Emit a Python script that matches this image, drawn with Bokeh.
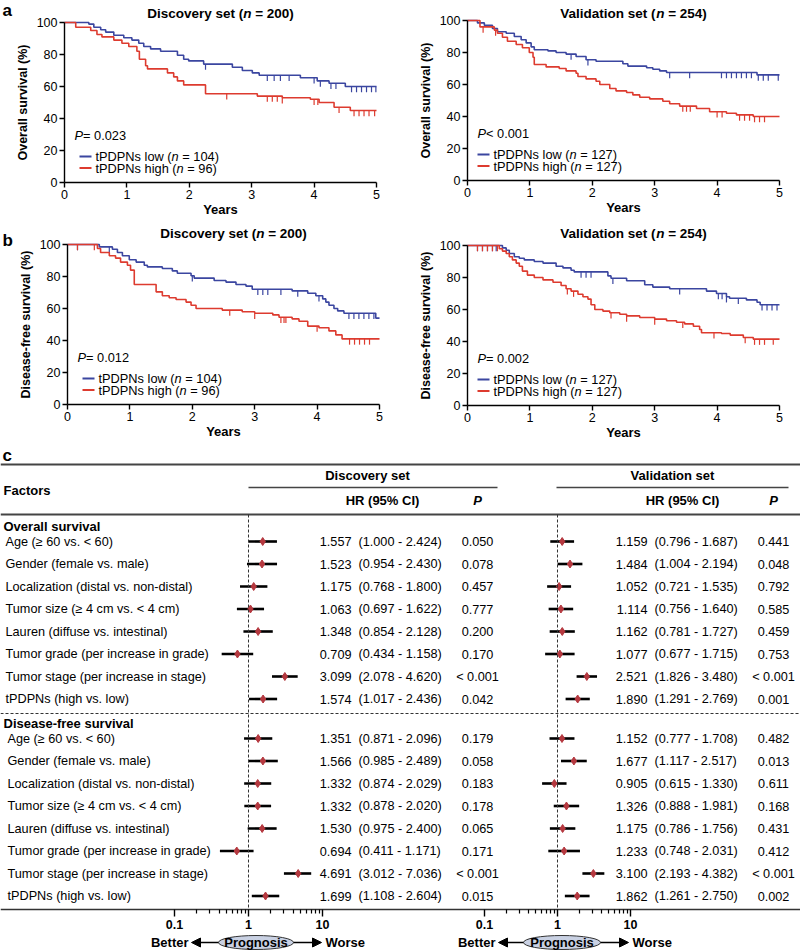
from bokeh.plotting import figure
from bokeh.layouts import column, row
from bokeh.models import (Range1d, LogScale, Label, Arrow, NormalHead, LogAxis, FixedTicker,
                          CustomJSTickFormatter)
from bokeh.embed import file_html
from bokeh.resources import INLINE
from bokeh.core.properties import value

FONT = "Liberation Sans"
BLUE = "#3b46a0"
RED = "#dd3b2f"
DOT = "#b5383f"

year_ticks = [0, 1, 2, 3, 4, 5]
surv_ticks = [0, 20, 40, 60, 80, 100]

# ---------------- Kaplan-Meier data (time in years, survival %) ----------------
os_disc_low_t = [0, 0.39, 0.47, 0.58, 0.66, 0.79, 0.95, 1.08, 1.19, 1.27, 1.38, 1.54, 1.81, 1.91, 1.99, 2.23, 2.69, 2.85, 3.01, 3.12, 3.78, 4.05, 4.24, 4.5]
os_disc_low_s = [100, 99, 97, 95.5, 94, 92, 90.5, 89, 87, 85, 83.5, 82, 79.5, 77, 76, 74, 72, 70, 68.5, 67, 65.5, 63.5, 62, 60]
os_disc_low_c = [2.26, 3.25, 3.36, 3.46, 3.6, 4.0, 4.1, 4.27, 4.35, 4.6, 4.68, 4.76, 4.84, 4.92, 4.99]
os_disc_high_t = [0, 0.18, 0.42, 0.52, 0.60, 0.79, 0.92, 1.03, 1.16, 1.2, 1.3, 1.33, 1.65, 1.75, 1.81, 1.91, 2.26, 3.09, 3.49, 3.94, 4.08, 4.32, 4.58]
os_disc_high_s = [100, 97, 95, 92.5, 91, 89, 87, 85, 82, 77, 73, 71, 68.5, 66, 63.5, 61, 55.5, 54, 53, 52, 50, 47, 45]
os_disc_high_c = [2.6, 3.25, 3.33, 3.41, 3.49, 4.0, 4.06, 4.4, 4.64, 4.72, 4.8, 4.88, 4.97]

os_val_low_t = [0, 0.16, 0.27, 0.40, 0.48, 0.62, 0.75, 0.86, 0.94, 1.02, 1.07, 1.29, 1.42, 1.58, 1.74, 1.90, 2.06, 2.49, 2.57, 2.87, 2.97, 3.08, 3.19, 4.64]
os_val_low_s = [100, 98.5, 97, 95, 93, 92, 90, 88, 86, 83.5, 81.7, 81, 80, 79, 77.5, 75.5, 74.5, 73, 71.5, 70.5, 69.5, 68.5, 67.5, 66]
os_val_low_c = [1.66, 1.93, 3.24, 3.56, 4.07, 4.15, 4.23, 4.31, 4.39, 4.47, 4.55, 4.66, 4.74, 4.82, 4.98]
os_val_high_t = [0, 0.2, 0.43, 0.48, 0.56, 0.64, 0.78, 0.88, 0.99, 1.05, 1.07, 1.26, 1.47, 1.58, 1.74, 1.77, 1.90, 2.06, 2.12, 2.28, 2.38, 2.55, 2.65, 2.76, 2.92, 3.13, 3.24, 3.40, 3.67, 3.88, 4.15, 4.31, 4.58]
os_val_high_s = [100, 96, 94, 92, 89.5, 87, 85, 83, 80, 77, 72.5, 71, 70, 68.5, 67, 65, 63.5, 62, 60, 57.5, 56, 55, 53.5, 52, 51, 49.5, 48, 46.5, 45, 43, 42, 41, 40]
os_val_high_c = [0.25, 0.45, 3.45, 3.51, 3.57, 4.0, 4.08, 4.36, 4.44, 4.52, 4.6, 4.68, 4.76]

dfs_disc_low_t = [0, 0.51, 0.72, 0.80, 0.88, 0.99, 1.10, 1.23, 1.28, 1.52, 1.68, 1.76, 1.98, 2.03, 2.35, 2.54, 2.70, 2.86, 2.96, 3.60, 3.85, 3.98, 4.09, 4.14, 4.19, 4.27, 4.33, 4.43, 4.94]
dfs_disc_low_s = [100, 98.5, 97, 95, 93, 90.5, 89, 87, 86, 85, 83.5, 82, 80.5, 79, 77.5, 76.5, 75, 74, 72, 71, 69.5, 68, 66, 64, 62, 60, 58.5, 57, 54]
dfs_disc_low_c = [0.16, 0.67, 2.0, 3.05, 3.13, 3.21, 3.42, 3.69, 4.03, 4.51, 4.59, 4.67, 4.75, 4.83, 4.91]
dfs_disc_high_t = [0, 0.48, 0.53, 0.67, 0.77, 0.85, 0.96, 1.01, 1.07, 1.42, 1.52, 1.63, 1.74, 1.9, 1.98, 2.06, 2.48, 2.8, 3.0, 3.29, 3.39, 3.6, 3.71, 3.85, 4.03, 4.19, 4.3, 4.4]
dfs_disc_high_s = [100, 97.5, 95, 93, 91.5, 89, 87, 84, 75, 70.4, 68, 66.7, 65.6, 64, 62, 60, 59, 58, 57, 56, 54.5, 53.5, 52, 49, 48, 46, 43.5, 41]
dfs_disc_high_c = [0.16, 0.43, 2.6, 3.0, 3.42, 3.47, 3.5, 4.0, 4.52, 4.6, 4.68, 4.76, 4.84]

dfs_val_low_t = [0, 0.56, 0.62, 0.67, 0.75, 0.83, 0.91, 1.07, 1.21, 1.42, 1.53, 1.66, 1.71, 2.25, 2.30, 2.55, 2.84, 2.97, 3.24, 3.83, 3.99, 4.15, 4.2, 4.47, 4.64, 4.69]
dfs_val_low_s = [100, 98.5, 97, 95, 93, 92, 91, 90, 89, 87, 86, 84.5, 83.5, 81, 79.5, 78, 75.5, 74, 73, 71.5, 70, 68, 67, 66, 64.5, 63]
dfs_val_low_c = [0.16, 0.24, 0.32, 0.4, 0.46, 1.82, 1.9, 1.98, 2.33, 3.4, 4.02, 4.08, 4.15, 4.34, 4.72, 4.8, 4.88, 4.96]
dfs_val_high_t = [0, 0.51, 0.56, 0.62, 0.67, 0.72, 0.78, 0.83, 0.88, 0.96, 1.07, 1.21, 1.37, 1.5, 1.58, 1.66, 1.77, 1.85, 1.93, 1.98, 2.04, 2.17, 2.28, 2.44, 2.55, 2.76, 3.0, 3.19, 3.35, 3.48, 3.62, 3.72, 3.75, 4.07, 4.21, 4.42, 4.58]
dfs_val_high_s = [100, 98, 96.5, 95, 93, 91, 89, 87, 84, 81.5, 80, 78.5, 77, 75, 73, 71.5, 69.5, 68, 66.5, 63, 60, 59, 58, 57, 56, 55, 54, 53, 52, 51, 49.5, 47.5, 45.5, 45, 44, 42.5, 41.5]
dfs_val_high_c = [0.16, 0.24, 0.32, 0.4, 0.48, 1.6, 1.7, 2.3, 2.55, 3.0, 3.45, 3.95, 4.45, 4.6, 4.68, 4.76, 4.9]

# ---------------- Forest plot data ----------------
factors = ["Age (\u2265 60 vs. < 60)", "Gender (female vs. male)", "Localization (distal vs. non-distal)",
           "Tumor size (\u2265 4 cm vs. < 4 cm)", "Lauren (diffuse vs. intestinal)",
           "Tumor grade (per increase in grade)", "Tumor stage (per increase in stage)", "tPDPNs (high vs. low)"]

os_disc_hr = [1.557, 1.523, 1.175, 1.063, 1.348, 0.709, 3.099, 1.574]
os_disc_lo = [1.000, 0.954, 0.768, 0.697, 0.854, 0.434, 2.078, 1.017]
os_disc_hi = [2.424, 2.430, 1.800, 1.622, 2.128, 1.158, 4.620, 2.436]
os_disc_p = ["0.050", "0.078", "0.457", "0.777", "0.200", "0.170", "< 0.001", "0.042"]
os_val_hr = [1.159, 1.484, 1.052, 1.114, 1.162, 1.077, 2.521, 1.890]
os_val_lo = [0.796, 1.004, 0.721, 0.756, 0.781, 0.677, 1.826, 1.291]
os_val_hi = [1.687, 2.194, 1.535, 1.640, 1.727, 1.715, 3.480, 2.769]
os_val_p = ["0.441", "0.048", "0.792", "0.585", "0.459", "0.753", "< 0.001", "0.001"]
dfs_disc_hr = [1.351, 1.566, 1.332, 1.332, 1.530, 0.694, 4.691, 1.699]
dfs_disc_lo = [0.871, 0.985, 0.874, 0.878, 0.975, 0.411, 3.012, 1.108]
dfs_disc_hi = [2.096, 2.489, 2.029, 2.020, 2.400, 1.171, 7.036, 2.604]
dfs_disc_p = ["0.179", "0.058", "0.183", "0.178", "0.065", "0.171", "< 0.001", "0.015"]
dfs_val_hr = [1.152, 1.677, 0.905, 1.326, 1.175, 1.233, 3.100, 1.862]
dfs_val_lo = [0.777, 1.117, 0.615, 0.888, 0.786, 0.748, 2.193, 1.261]
dfs_val_hi = [1.708, 2.517, 1.330, 1.981, 1.756, 2.031, 4.382, 2.750]
dfs_val_p = ["0.482", "0.013", "0.611", "0.168", "0.431", "0.412", "< 0.001", "0.002"]

hr_major = [0.1, 1, 10]
hr_minor = [0.2, 0.3, 0.4, 0.5, 0.6, 0.7, 0.8, 0.9, 2, 3, 4, 5, 6, 7, 8, 9]

# ---------------- text width helper (Arial / Liberation Sans metrics) ----------------
REG = {' ': 278, '(': 333, ')': 333, '=': 584, '<': 584, '.': 278, 'P': 667, 'D': 722, 'N': 722,
       't': 278, 's': 500, 'l': 222, 'o': 556, 'w': 722, 'h': 556, 'i': 222, 'g': 556, 'n': 556}
BOLD = {' ': 278, '(': 333, ')': 333, '=': 584, 'D': 722, 'V': 667, 'i': 278, 's': 556, 'c': 556,
        'o': 611, 'v': 556, 'e': 556, 'r': 389, 'y': 556, 't': 333, 'a': 556, 'l': 278, 'd': 611, 'n': 611}


def tw(s, size, bold=False):
    tab = BOLD if bold else REG
    return sum(tab.get(c, 556) for c in s) / 1000.0 * size


PXU = 62.4   # px per year
PYU = 1.6    # px per %


def add_pieces(p, pieces, x_px, y_px, fx0, fy0, size, align="left"):
    widths = [tw(t, size, "bold" in st) for t, st in pieces]
    cur = x_px - sum(widths) / 2 if align == "center" else x_px
    for (t, st), w in zip(pieces, widths):
        lead = len(t) - len(t.lstrip())
        off = tw(t[:lead], size, "bold" in st)
        p.add_layout(Label(x=(cur + off - fx0) / PXU, y=(fy0 - y_px) / PYU, text=t.strip(),
                           text_font=FONT, text_font_size=f"{size}px", text_font_style=st,
                           text_baseline="middle", text_align="left", text_color="black"))
        cur += w


def surv_at(ts, ss, c):
    val = ss[0]
    for t, s in zip(ts, ss):
        if t <= c:
            val = s
    return val


def make_km(cfg):
    pl, pt, W, H, fx0, fy0 = cfg["pl"], cfg["pt"], cfg["W"], cfg["H"], cfg["fx0"], cfg["fy0"]
    xr = Range1d((pl - fx0) / PXU, (pl + W - fx0) / PXU)
    yr = Range1d((fy0 - pt - H) / PYU, (fy0 - pt) / PYU)
    p = figure(width=W, height=H, x_range=xr, y_range=yr,
               output_backend="svg", toolbar_location=None,
               min_border_left=0, min_border_right=0, min_border_top=0, min_border_bottom=0)
    p.outline_line_color = None
    p.xgrid.visible = False
    p.ygrid.visible = False
    p.xaxis.ticker = year_ticks
    p.yaxis.ticker = surv_ticks
    p.xaxis.fixed_location = 0
    p.yaxis.fixed_location = 0
    p.xaxis.bounds = (0, 5)
    p.yaxis.bounds = (0, 100)
    p.xaxis.axis_label = "Years"
    p.yaxis.axis_label = cfg["ylabel"]
    for ax in (p.xaxis, p.yaxis):
        ax.axis_line_width = 1.4
        ax.axis_line_color = "black"
        ax.major_tick_line_width = 1.4
        ax.major_tick_line_color = "black"
        ax.major_tick_out = 5
        ax.major_tick_in = 0
        ax.minor_tick_line_color = None
        ax.major_label_text_font = FONT
        ax.major_label_text_font_size = "12.5px"
        ax.major_label_text_color = "black"
        ax.major_label_standoff = 2
        ax.axis_label_text_font = FONT
        ax.axis_label_text_font_style = "bold"
        ax.axis_label_text_color = "black"
    p.xaxis.axis_label_text_font_size = "13px"
    p.yaxis.axis_label_text_font_size = "12.5px"
    p.xaxis.axis_label_standoff = 0
    p.yaxis.axis_label_standoff = 4

    for ts, ss, cs, col in ((cfg["low"][0], cfg["low"][1], cfg["low"][2], BLUE),
                            (cfg["high"][0], cfg["high"][1], cfg["high"][2], RED)):
        xs = list(ts) + [5]
        ys = list(ss) + [ss[-1]]
        p.step(xs, ys, mode="after", line_color=col, line_width=1.6)
        cy = [surv_at(ts, ss, c) for c in cs]
        p.segment(x0=cs, x1=cs, y0=cy, y1=[v - 3.6 for v in cy], line_color=col, line_width=1.2)

    # title
    add_pieces(p, [(cfg["title"], "bold"), ("n", "bold italic"), (cfg["tn"], "bold")],
               cfg["tx"], cfg["ty"], fx0, fy0, 13.5, align="center")
    # panel letter
    if cfg.get("letter"):
        add_pieces(p, [(cfg["letter"], "bold")], pl + 2, cfg["ly"], fx0, fy0, 17)
    # P value
    add_pieces(p, [("P", "italic"), (cfg["pv"], "normal")], fx0 + 10, fy0 - 47, fx0, fy0, 12.8)
    # legend
    lx0 = fx0 + cfg["lx"]
    for dy, col, lab in ((26, BLUE, cfg["nlow"]), (14.5, RED, cfg["nhigh"])):
        yv = dy / PYU
        p.segment(x0=[(lx0 - fx0) / PXU], x1=[(lx0 + 12 - fx0) / PXU], y0=[yv], y1=[yv],
                  line_color=col, line_width=2)
        add_pieces(p, [(lab[0], "normal"), ("n", "italic"), (lab[1], "normal")],
                   lx0 + 16, fy0 - dy, fx0, fy0, 12.8)
    return p


a1 = make_km(dict(pl=0, pt=0, W=400, H=225, fx0=64, fy0=182, ylabel="Overall survival (%)",
                  low=(os_disc_low_t, os_disc_low_s, os_disc_low_c),
                  high=(os_disc_high_t, os_disc_high_s, os_disc_high_c),
                  title="Discovery set (", tn=" = 200)", tx=220, ty=13, letter="a", ly=10,
                  pv="= 0.023", lx=15, nlow=("tPDPNs low (", " = 104)"), nhigh=("tPDPNs high (", " = 96)")))
a2 = make_km(dict(pl=400, pt=0, W=400, H=225, fx0=467, fy0=180, ylabel="Overall survival (%)",
                  low=(os_val_low_t, os_val_low_s, os_val_low_c),
                  high=(os_val_high_t, os_val_high_s, os_val_high_c),
                  title="Validation set (", tn=" = 254)", tx=633, ty=13,
                  pv="< 0.001", lx=10, nlow=("tPDPNs low (", " = 127)"), nhigh=("tPDPNs high (", " = 127)")))
b1 = make_km(dict(pl=0, pt=225, W=400, H=222, fx0=67, fy0=404, ylabel="Disease-free survival (%)",
                  low=(dfs_disc_low_t, dfs_disc_low_s, dfs_disc_low_c),
                  high=(dfs_disc_high_t, dfs_disc_high_s, dfs_disc_high_c),
                  title="Discovery set (", tn=" = 200)", tx=233, ty=233, letter="b", ly=240,
                  pv="= 0.012", lx=15, nlow=("tPDPNs low (", " = 104)"), nhigh=("tPDPNs high (", " = 96)")))
b2 = make_km(dict(pl=400, pt=225, W=400, H=222, fx0=467, fy0=405, ylabel="Disease-free survival (%)",
                  low=(dfs_val_low_t, dfs_val_low_s, dfs_val_low_c),
                  high=(dfs_val_high_t, dfs_val_high_s, dfs_val_high_c),
                  title="Validation set (", tn=" = 254)", tx=633, ty=233,
                  pv="= 0.002", lx=10, nlow=("tPDPNs low (", " = 127)"), nhigh=("tPDPNs high (", " = 127)")))

# ---------------- Forest table ----------------
XL, XR = 0, 800
fp = figure(width=800, height=503, x_range=Range1d(XL, XR), y_range=Range1d(950, 447),
            x_axis_location=None, y_axis_location=None, output_backend="svg", toolbar_location=None,
            min_border_left=0, min_border_right=0, min_border_top=0, min_border_bottom=0)
fp.outline_line_color = None
fp.xgrid.visible = False
fp.ygrid.visible = False

panels = {"L": (248, 74), "R": (557, 73)}
fp.extra_x_ranges = {k: Range1d(10 ** ((XL - c) / d), 10 ** ((XR - c) / d)) for k, (c, d) in panels.items()}
fp.extra_x_scales = {k: LogScale() for k in panels}

TXT = dict(text_font=value(FONT), text_baseline="middle", text_color="black")


def ftext(x, y, t, size="12.7px", align="left", style="normal", **kw):
    fp.text(x=x, y=y, text=t, text_font_size=size, text_align=align, text_font_style=style, **TXT, **kw)


# table rules
fp.segment(x0=[XL], x1=[XR], y0=[464], y1=[464], line_color="#444", line_width=2)
fp.segment(x0=[248, 556], x1=[497, 788], y0=[487, 487], y1=[487, 487], line_color="#444", line_width=1.5)
fp.segment(x0=[XL], x1=[XR], y0=[514], y1=[514], line_color="#444", line_width=2)
fp.segment(x0=[XL], x1=[XR], y0=[713], y1=[713], line_color="#333", line_width=1.2, line_dash="3 2")
fp.segment(x0=[XL], x1=[XR], y0=[909], y1=[909], line_color="#333", line_width=1.5)

# headers
ftext([2], [455], ["c"], size="17px", style="bold")
ftext([3], [490], ["Factors"], size="13px", style="bold")
ftext([367, 672], [475, 475], ["Discovery set", "Validation set"], size="13px", style="bold", align="center")
ftext([382, 682], [500, 500], ["HR (95% CI)", "HR (95% CI)"], size="13px", style="bold", align="center")
ftext([477, 773], [500, 500], ["P", "P"], size="13px", style="bold italic", align="center")
ftext([3, 3], [526, 723], ["Overall survival", "Disease-free survival"], size="13px", style="bold")

os_y = [541 + 22.5 * i for i in range(len(factors))]
dfs_y = [738 + 22.5 * i for i in range(len(factors))]
ftext([5] * len(factors), os_y, factors)
ftext([7] * len(factors), dfs_y, factors)

blocks = [
    ("L", os_y, os_disc_hr, os_disc_lo, os_disc_hi, os_disc_p, 351, 358, 477),
    ("R", os_y, os_val_hr, os_val_lo, os_val_hi, os_val_p, 647, 654, 773),
    ("L", dfs_y, dfs_disc_hr, dfs_disc_lo, dfs_disc_hi, dfs_disc_p, 351, 358, 477),
    ("R", dfs_y, dfs_val_hr, dfs_val_lo, dfs_val_hi, dfs_val_p, 647, 654, 773),
]
for rn, ys, hr, lo, hi, pv, xhr, xci, xp in blocks:
    n = len(ys)
    ftext([xhr] * n, ys, [f"{v:.3f}" for v in hr], align="right")
    ftext([xci] * n, ys, [f"({a:.3f} - {b:.3f})" for a, b in zip(lo, hi)])
    ftext([xp] * n, ys, pv, align="center")
    fp.segment(x0=lo, x1=hi, y0=ys, y1=ys, x_range_name=rn, line_color="black", line_width=2.6)
    fp.scatter(x=hr, y=ys, marker="diamond", size=8, fill_color=DOT, line_color=DOT, x_range_name=rn)

for rn in ("L", "R"):
    fp.segment(x0=[1], x1=[1], y0=[514], y1=[909], x_range_name=rn, line_color="#333",
               line_width=1, line_dash="3 2")
    ax = LogAxis(x_range_name=rn, ticker=FixedTicker(ticks=hr_major, minor_ticks=hr_minor),
                 fixed_location=909, bounds=(0.1, 10),
                 formatter=CustomJSTickFormatter(code="return String(tick)"))
    ax.axis_line_color = None
    ax.major_tick_out = 7
    ax.major_tick_in = 0
    ax.minor_tick_out = 4
    ax.minor_tick_in = 0
    ax.major_tick_line_width = 1.4
    ax.minor_tick_line_width = 1.2
    ax.major_tick_line_color = "black"
    ax.minor_tick_line_color = "black"
    ax.major_label_text_font = FONT
    ax.major_label_text_font_size = "12.5px"
    ax.major_label_text_font_style = "bold"
    ax.major_label_text_color = "black"
    ax.major_label_standoff = 3
    fp.add_layout(ax, "below")

# prognosis keys
for better_x, ell_x, ell_w, worse_x in ((188, 255.5, 75, 325), (495, 561.5, 77, 632)):
    yk = 942
    ftext([better_x], [yk], ["Better"], size="13px", style="bold", align="right")
    ftext([worse_x], [yk], ["Worse"], size="13px", style="bold")
    fp.add_layout(Arrow(end=NormalHead(size=9, fill_color="black", line_color="black"),
                        x_start=ell_x - ell_w / 2, y_start=yk, x_end=better_x + 3, y_end=yk,
                        line_color="black", line_width=1.5))
    fp.add_layout(Arrow(end=NormalHead(size=9, fill_color="black", line_color="black"),
                        x_start=ell_x + ell_w / 2, y_start=yk, x_end=worse_x - 4, y_end=yk,
                        line_color="black", line_width=1.5))
    fp.ellipse(x=[ell_x], y=[yk], width=[ell_w], height=[14], fill_color="#c9d1e3",
               line_color="#333", line_width=1)
    ftext([ell_x], [yk], ["Prognosis"], size="13px", style="bold", align="center")

layout = column(row(a1, a2), row(b1, b2), fp)
open("out.html", "w").write(file_html(layout, INLINE))
